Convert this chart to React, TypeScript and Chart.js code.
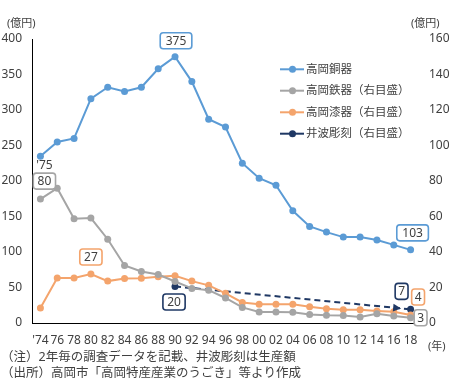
import React, { useEffect, useRef } from "react";
import { Chart, registerables } from "chart.js";

Chart.register(...registerables);

const years = ["'74", "76", "78", "80", "82", "84", "86", "88", "90", "92", "94", "96", "98", "00", "02", "04", "06", "08", "10", "12", "14", "16", "18"];
const bronze = [235, 255, 260, 316, 332, 326, 332, 358, 375, 340, 287, 276, 225, 204, 194, 158, 136, 128, 121, 121, 117, 110, 103];
const iron = [69.8, 75.9, 58.7, 59.1, 47.2, 32.4, 29, 27.3, 23.4, 19.5, 18.5, 14.1, 8.8, 6.2, 6.2, 6.1, 4.8, 4.3, 4.2, 3.4, 5.2, 3.9, 3];
const lacquer = [8.5, 25.3, 25.3, 27.6, 23.6, 25.1, 25.2, 26, 26.6, 23.6, 21.2, 16.7, 11.6, 10.5, 10.5, 10.5, 9.2, 8, 7.4, 7.4, 6.8, 6.3, 4.5];
const carving = [null, null, null, null, null, null, null, null, 20.6, null, null, null, null, null, null, null, null, null, null, null, null, null, 7.7];

const seriesNames = ["高岡銅器", "高岡鉄器（右目盛）", "高岡漆器（右目盛）", "井波彫刻（右目盛）"];
const seriesColors = ["#5B9BD5", "#A5A5A5", "#F4A46C", "#1F3864"];

const leftTicks = [0, 50, 100, 150, 200, 250, 300, 350, 400];
const rightTicks = [0, 20, 40, 60, 80, 100, 120, 140, 160];

const unitLeft = "(億円)";
const unitRight = "(億円)";
const unitYear = "(年)";
const noteLines = ["（注）2年毎の調査データを記載、井波彫刻は生産額", "（出所）高岡市「高岡特産産業のうごき」等より作成"];

// data callouts: [dataset, index, text, boxed]
const callouts: [number, number, string, boolean][] = [
  [0, 8, "375", true],
  [0, 22, "103", true],
  [0, 0, "'75", false],
  [1, 0, "80", true],
  [1, 22, "3", true],
  [2, 3, "27", true],
  [2, 22, "4", true],
  [3, 8, "20", true],
  [3, 22, "7", true],
];
// style offsets for callouts (same order)
const calloutOffsets: [number, number][] = [
  [1, -16], [2, -17], [4, 8.5], [4, -18], [10, 0], [0, -17], [7.5, -18], [-1, 15.5], [-9, -18],
];

const FONT = "'Noto Sans', 'Noto Sans CJK JP', sans-serif";
const TEXT = "#404040";

function roundRect(ctx: CanvasRenderingContext2D, x: number, y: number, w: number, h: number, r: number) {
  ctx.beginPath();
  ctx.moveTo(x + r, y);
  ctx.lineTo(x + w - r, y);
  ctx.quadraticCurveTo(x + w, y, x + w, y + r);
  ctx.lineTo(x + w, y + h - r);
  ctx.quadraticCurveTo(x + w, y + h, x + w - r, y + h);
  ctx.lineTo(x + r, y + h);
  ctx.quadraticCurveTo(x, y + h, x, y + h - r);
  ctx.lineTo(x, y + r);
  ctx.quadraticCurveTo(x, y, x + r, y);
  ctx.closePath();
}

const decorPlugin = {
  id: "decor",
  afterDatasetsDraw(chart: any) {
    const ctx: CanvasRenderingContext2D = chart.ctx;
    ctx.save();
    // arrow on carving line
    const m3 = chart.getDatasetMeta(3);
    const p0 = m3.data[8];
    const p1 = m3.data[22];
    if (p0 && p1) {
      const dx = p1.x - p0.x, dy = p1.y - p0.y;
      const len = Math.hypot(dx, dy);
      const ux = dx / len, uy = dy / len;
      const tx = p1.x - ux * 9.5, ty = p1.y - uy * 9.5;
      const bx = tx - ux * 8, by = ty - uy * 8;
      ctx.fillStyle = seriesColors[3];
      ctx.beginPath();
      ctx.moveTo(tx, ty);
      ctx.lineTo(bx - uy * 4, by + ux * 4);
      ctx.lineTo(bx + uy * 4, by - ux * 4);
      ctx.closePath();
      ctx.fill();
    }
    // callouts
    ctx.font = `12px ${FONT}`;
    ctx.textAlign = "center";
    ctx.textBaseline = "middle";
    callouts.forEach(([ds, idx, text, boxed], k) => {
      const el = chart.getDatasetMeta(ds).data[idx];
      if (!el) return;
      const [ox, oy] = calloutOffsets[k];
      const cx = el.x + ox, cy = el.y + oy;
      const tw = ctx.measureText(text).width;
      if (boxed) {
        const w = tw + 6 + (text.length - 1) * 2.5;
        const h = 16;
        roundRect(ctx, cx - w / 2, cy - h / 2, w, h, 3);
        ctx.fillStyle = "#fff";
        ctx.fill();
        ctx.lineWidth = 1.6;
        ctx.strokeStyle = seriesColors[ds];
        ctx.stroke();
      }
      ctx.fillStyle = TEXT;
      ctx.fillText(text, cx, cy + 0.5);
    });
    ctx.restore();
  },
  afterDraw(chart: any) {
    const ctx: CanvasRenderingContext2D = chart.ctx;
    ctx.save();
    // legend
    const rows = [69.3, 90.7, 112.3, 133.7];
    ctx.font = `11.5px ${FONT}`;
    ctx.textBaseline = "middle";
    ctx.textAlign = "left";
    rows.forEach((y, i) => {
      ctx.strokeStyle = seriesColors[i];
      ctx.lineWidth = 2;
      ctx.beginPath();
      ctx.moveTo(280, y);
      ctx.lineTo(304, y);
      ctx.stroke();
      ctx.fillStyle = seriesColors[i];
      ctx.beginPath();
      ctx.arc(292.5, y, 3.5, 0, Math.PI * 2);
      ctx.fill();
      ctx.fillStyle = TEXT;
      ctx.fillText(seriesNames[i], 306, y + 0.5);
    });
    // unit labels
    ctx.font = `11px ${FONT}`;
    ctx.fillStyle = TEXT;
    ctx.textAlign = "left";
    ctx.fillText(unitLeft, 7, 24);
    ctx.fillText(unitRight, 411, 24);
    ctx.fillText(unitYear, 428, 347);
    // notes
    ctx.font = `12.5px ${FONT}`;
    ctx.fillText(noteLines[0], 1, 357);
    ctx.fillText(noteLines[1], 1, 373);
    ctx.restore();
  },
};

export default function App() {
  const ref = useRef<HTMLCanvasElement>(null);
  useEffect(() => {
    if (!ref.current) return;
    const ds = (data: any[], i: number, axis: string, extra: any = {}) => ({
      label: seriesNames[i],
      data,
      yAxisID: axis,
      borderColor: seriesColors[i],
      backgroundColor: seriesColors[i],
      pointBackgroundColor: seriesColors[i],
      pointBorderColor: seriesColors[i],
      pointRadius: 3.5,
      pointBorderWidth: 0,
      borderWidth: 2,
      tension: 0,
      ...extra,
    });
    const chart = new Chart(ref.current, {
      type: "line",
      data: {
        labels: years,
        datasets: [
          ds(carving, 3, "y2", { spanGaps: true, borderDash: [6, 4] }),
          ds(lacquer, 2, "y2"),
          ds(iron, 1, "y2"),
          ds(bronze, 0, "y"),
        ].reverse(),
      },
      plugins: [decorPlugin],
      options: {
        responsive: false,
        animation: false,
        devicePixelRatio: 1,
        layout: { padding: { top: 39, left: 0, right: 0, bottom: 0 } },
        plugins: { legend: { display: false }, tooltip: { enabled: false } },
        scales: {
          x: {
            offset: true,
            grid: { display: false, drawTicks: false },
            border: { display: true, color: "#000", width: 1 },
            ticks: { autoSkip: false, maxRotation: 0, padding: 10, color: TEXT, font: { family: FONT, size: 12 } },
            afterFit: (s: any) => { s.height = 62; },
          },
          y: {
            position: "left",
            min: 0,
            max: 400,
            afterBuildTicks: (s: any) => { s.ticks = leftTicks.map((v) => ({ value: v })); },
            grid: { display: false, drawTicks: false },
            border: { display: true, color: "#000", width: 1 },
            ticks: { padding: 10, color: TEXT, font: { family: FONT, size: 12 } },
            afterFit: (s: any) => { s.width = 32; },
          },
          y2: {
            position: "right",
            min: 0,
            max: 160,
            afterBuildTicks: (s: any) => { s.ticks = rightTicks.map((v) => ({ value: v })); },
            grid: { display: false, drawTicks: false },
            border: { display: false },
            ticks: { padding: 10, color: TEXT, font: { family: FONT, size: 12 } },
            afterFit: (s: any) => { s.width = 32; },
          },
        },
      },
    } as any);
    return () => chart.destroy();
  }, []);
  return (
    <div style={{ position: "absolute", left: 0, top: 0, width: 451, height: 385, background: "#fff" }}>
      <canvas ref={ref} width={451} height={385} style={{ display: "block" }} />
    </div>
  );
}
